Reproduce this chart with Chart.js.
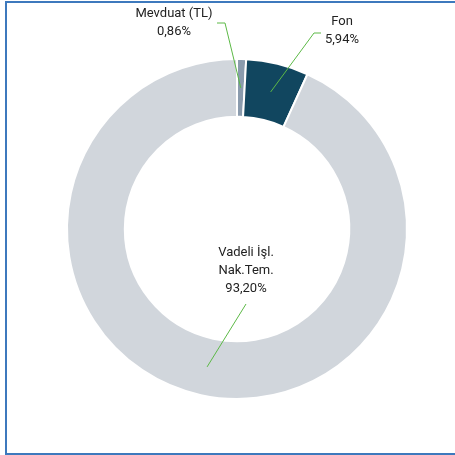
<!DOCTYPE html>
<html>
<head>
<meta charset="utf-8">
<script src="https://cdn.jsdelivr.net/npm/chart.js@4"></script>
<style>
  html, body { margin: 0; padding: 0; background: #fff; }
  body { width: 455px; height: 455px; position: relative; overflow: hidden; }
  #frame {
    position: absolute; left: 5px; top: 1px; width: 470px; height: 450px;
    border-left: 2px solid #3d79bd; border-top: 2px solid #3d79bd; border-bottom: 2px solid #3d79bd;
    box-sizing: content-box;
  }
  #wrap { position: absolute; left: 0; top: 0; width: 455px; height: 455px; }
</style>
</head>
<body>
<div id="frame"></div>
<div id="wrap"><canvas id="pie"></canvas></div>
<script>
const labels = ["Mevduat (TL)", "Fon", "Vadeli İşl.\nNak.Tem."];
const values = [0.86, 5.94, 93.20];
const colors = ["#8a9bad", "#11465f", "#d1d6dc"];

// where each callout text sits (elbow point and text centre), in px relative to chart centre
const callouts = [
  { elbow: [-12, -206], end: [-20, -206], text: [-63, -206] },
  { elbow: [77, -196], end: [84, -196], text: [105, -198] },
  { elbow: [9, 75], end: null, text: [9, 42] }
];

function fmt(v) {
  return v.toFixed(2).replace(".", ",") + "%";
}

const calloutPlugin = {
  id: "callouts",
  afterDatasetsDraw(chart) {
    const ctx = chart.ctx;
    const meta = chart.getDatasetMeta(0);
    const cx = (chart.chartArea.left + chart.chartArea.right) / 2;
    const cy = (chart.chartArea.top + chart.chartArea.bottom) / 2;
    ctx.save();
    meta.data.forEach((arc, i) => {
      const c = callouts[i];
      const p = arc.tooltipPosition();
      ctx.strokeStyle = "#5cb946";
      ctx.lineWidth = 1;
      ctx.beginPath();
      ctx.moveTo(p.x, p.y);
      ctx.lineTo(cx + c.elbow[0], cy + c.elbow[1]);
      if (c.end) ctx.lineTo(cx + c.end[0], cy + c.end[1]);
      ctx.stroke();

      const lines = labels[i].split("\n").concat([fmt(values[i])]);
      ctx.fillStyle = "#222222";
      ctx.font = "13px Roboto";
      ctx.textAlign = "center";
      ctx.textBaseline = "middle";
      const lh = 18;
      const startY = cy + c.text[1] - (lines.length - 1) * lh / 2;
      lines.forEach((t, k) => {
        ctx.fillText(t, cx + c.text[0], startY + k * lh);
      });
    });
    ctx.restore();
  }
};

new Chart(document.getElementById("pie"), {
  type: "doughnut",
  data: {
    labels: labels,
    datasets: [{
      data: values,
      backgroundColor: colors,
      borderColor: "#ffffff",
      borderWidth: 2
    }]
  },
  options: {
    responsive: true,
    maintainAspectRatio: false,
    animation: false,
    cutout: "66%",
    radius: 170,
    layout: { padding: { left: 66, right: 47, top: 58, bottom: 55 } },
    plugins: {
      legend: { display: false },
      tooltip: { enabled: false }
    }
  },
  plugins: [calloutPlugin]
});
</script>
</body>
</html>
